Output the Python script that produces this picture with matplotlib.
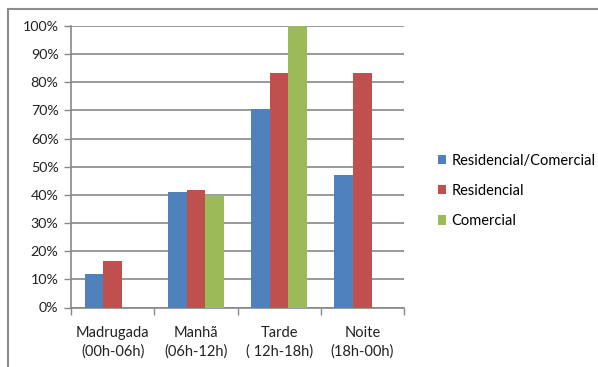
import matplotlib
matplotlib.use("Agg")
import matplotlib.pyplot as plt
from matplotlib.lines import Line2D
from matplotlib.patches import Patch
import numpy as np

plt.rcParams['font.family'] = ['Lato', 'DejaVu Sans']

categories = ["Madrugada\n(00h-06h)", "Manhã\n(06h-12h)", "Tarde\n( 12h-18h)", "Noite\n(18h-00h)"]
series_names = ["Residencial/Comercial", "Residencial", "Comercial"]
res_com = [2/17, 7/17, 12/17, 8/17]
residencial = [1/6, 5/12, 5/6, 5/6]
comercial = [0.0, 0.40, 1.0, 0.0]
colors = ["#4F81BD", "#C0504D", "#9BBB59"]
y_ticks = [0, 0.1, 0.2, 0.3, 0.4, 0.5, 0.6, 0.7, 0.8, 0.9, 1.0]

W, H = 598, 367
fig = plt.figure(figsize=(W / 100, H / 100), dpi=100)
ax = fig.add_axes([71 / W, 1 - 307.5 / H, 333 / W, 281.5 / H])

x = np.arange(len(categories))
bw = 0.225
for i, (vals, c) in enumerate(zip([res_com, residencial, comercial], colors)):
    ax.bar(x + (i - 1) * bw, vals, width=bw, color=c, edgecolor='none', zorder=3)

ax.set_xlim(-0.5, len(categories) - 0.5)
ax.set_ylim(0, 1.0)
ax.set_yticks(y_ticks)
ax.set_yticklabels([f"{int(round(t * 100))}%" for t in y_ticks], fontsize=10.3, color='#222222')
ax.yaxis.grid(True, color='#888888', linewidth=1.2, zorder=0)
ax.set_axisbelow(True)

# category labels centered, tick marks at category boundaries
ax.set_xticks(x)
ax.set_xticklabels(categories, fontsize=10.5, color='#222222', linespacing=1.4)
ax.tick_params(axis='x', length=0, pad=13)
ax.set_xticks(np.arange(-0.5, len(categories)), minor=True)
ax.tick_params(axis='x', which='minor', length=5, width=1, color='#888888', direction='out')
ax.tick_params(axis='y', length=5, width=1, color='#888888', direction='out', pad=4)

for s in ['top', 'right']:
    ax.spines[s].set_visible(False)
for s in ['left', 'bottom']:
    ax.spines[s].set_color('#888888')
    ax.spines[s].set_linewidth(1.2)

handles = [Patch(facecolor=c, edgecolor='none') for c in colors]
fig.legend(handles, series_names, loc='center left', bbox_to_anchor=(431 / W, 1 - 191 / H),
           frameon=False, fontsize=10.5, handlelength=0.55, handleheight=0.6, handletextpad=0.35,
           labelspacing=1.1, borderpad=0)

# chart frame
fig.add_artist(Line2D([8 / W, 1], [1 - 9 / H, 1 - 9 / H], transform=fig.transFigure, color='#8c8c8c', lw=1.5))
fig.add_artist(Line2D([8 / W, 8 / W], [0, 1 - 9 / H], transform=fig.transFigure, color='#8c8c8c', lw=1.5))

fig.savefig("out.png", dpi=100, facecolor='white')
